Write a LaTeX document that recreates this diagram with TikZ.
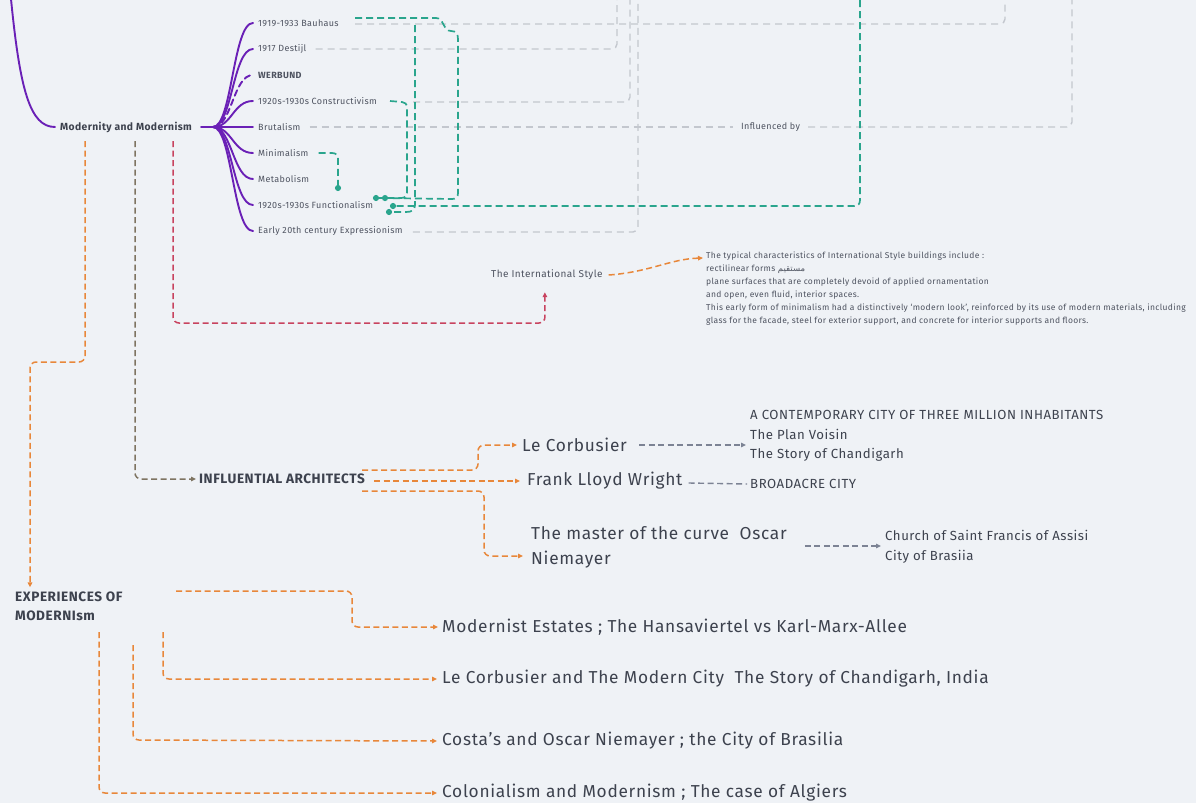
\documentclass[tikz,border=0pt]{standalone}
\usepackage{fontspec}
\setmainfont[LetterSpace=4]{Fira Sans}
\newfontfamily\arabicfont[Script=Arabic]{DejaVu Sans}
\TeXXeTstate=1
\usetikzlibrary{arrows.meta,calc}
\definecolor{bg}{HTML}{EFF2F6}
\definecolor{txt}{HTML}{3D424E}
\definecolor{txtl}{HTML}{4E5360}
\definecolor{purp}{HTML}{6A20B6}
\definecolor{teal}{HTML}{2AA58D}
\definecolor{lgray}{HTML}{C3C7CE}
\definecolor{orng}{HTML}{E8873A}
\definecolor{crim}{HTML}{C8435F}
\definecolor{brwn}{HTML}{7E7461}
\definecolor{dgray}{HTML}{7C8394}
\tikzset{
  lbl/.style={font=\fontsize{9}{11}\selectfont, text=txtl, inner sep=0pt, anchor=west},
  big/.style={font=\fontsize{17.3}{25}\selectfont, text=txt, inner sep=0pt, anchor=west, align=left},
  mid/.style={font=\fontsize{13.2}{19.5}\selectfont, text=txt, inner sep=0pt, anchor=west, align=left},
  small/.style={font=\fontsize{8.5}{13}\selectfont, text=txtl, inner sep=0pt, align=left},
  head/.style={font=\bfseries\fontsize{13.6}{19}\selectfont, text=txt, inner sep=0pt, anchor=west, align=left},
  pline/.style={draw=purp, line width=1.9pt, line cap=round},
  gline/.style={draw=lgray, line width=1.4pt, dash pattern=on 7pt off 5pt, rounded corners=5pt},
  tline/.style={draw=teal, line width=1.7pt, dash pattern=on 7pt off 4pt, -{Circle[length=6pt]}},
  oline/.style={draw=orng, line width=1.5pt, dash pattern=on 6pt off 3.5pt, rounded corners=6pt, -{Triangle[length=5pt,width=4.5pt]}},
  rline/.style={draw=crim, line width=1.5pt, dash pattern=on 6pt off 3.5pt, rounded corners=6pt, -{Triangle[length=5pt,width=4.5pt]}},
  bline/.style={draw=brwn, line width=1.5pt, dash pattern=on 6pt off 3.5pt, rounded corners=6pt, -{Triangle[length=5pt,width=4.5pt]}},
  kline/.style={draw=dgray, line width=1.4pt, dash pattern=on 6pt off 3.5pt},
}
\begin{document}
\begin{tikzpicture}[x=1pt,y=-1pt]
\useasboundingbox[fill=bg] (0,0) rectangle (1196,803);

% ---------- nodes ----------
\node[font=\bfseries\fontsize{10.3}{12}\selectfont, text=txt, inner sep=0pt, anchor=west] (mm) at (60,127) {Modernity and Modernism};
\node[lbl] (bau) at (258,23) {1919-1933 Bauhaus};
\node[lbl] (dst) at (258,49) {1917 Destijl};
\node[lbl, font=\bfseries\fontsize{9}{11}\selectfont] (wer) at (258,75) {WERBUND};
\node[lbl] (con) at (258,101) {1920s-1930s Constructivism};
\node[lbl] (bru) at (258,127) {Brutalism};
\node[lbl] (min) at (258,153) {Minimalism};
\node[lbl] (met) at (258,179) {Metabolism};
\node[lbl] (fun) at (258,205) {1920s-1930s Functionalism};
\node[lbl] (exp) at (258,231) {Early 20th century Expressionism};
\node[lbl] (inf) at (741,127) {Influenced by};

\node[font=\fontsize{10}{12}\selectfont, text=txtl, inner sep=0pt, anchor=west] (intl) at (491,275) {The International Style};
\node[small, anchor=north west] (desc) at (706,252) {The typical characteristics of International Style buildings include :\\
rectilinear forms {\arabicfont\beginR مستقيم\endR}\\
plane surfaces that are completely devoid of applied ornamentation\\
and open, even fluid, interior spaces.\\
This early form of minimalism had a distinctively ‘modern look’, reinforced by its use of modern materials, including\\
glass for the facade, steel for exterior support, and concrete for interior supports and floors.};

\node[head] (ia) at (199,479) {INFLUENTIAL ARCHITECTS};
\node[big] (lc) at (522,445) {Le Corbusier};
\node[big] (flw) at (527,481) {Frank Lloyd Wright};
\node[big] (osc) at (531,547) {The master of the curve\ \ Oscar\\Niemayer};
\node[mid] (lcl) at (750,436) {A CONTEMPORARY CITY OF THREE MILLION INHABITANTS\\The Plan Voisin\\The Story of Chandigarh};
\node[mid] (bro) at (750,484) {BROADACRE CITY};
\node[mid] (nl) at (885,547) {Church of Saint Francis of Assisi\\City of Brasiia};

\node[head] (exm) at (15,606) {EXPERIENCES OF\\MODERNIsm};
\node[big] (e1) at (442,627) {Modernist Estates ; The Hansaviertel vs Karl-Marx-Allee};
\node[big] (e2) at (442,679) {Le Corbusier and The Modern City\ \ The Story of Chandigarh, India};
\node[big] (e3) at (442,741) {Costa’s and Oscar Niemayer ; the City of Brasilia};
\node[big] (e4) at (442,793) {Colonialism and Modernism ; The case of Algiers};

% ---------- purple tree ----------
\coordinate (top) at (11,-1);
\coordinate (hub) at (213,127);
\draw[pline] (top) .. controls (20,90) and (30,127) .. ([xshift=-5pt]mm.west);
\draw[pline] ([xshift=9pt]mm.east) -- (hub);
\foreach \n in {bau,dst,con,bru,min,met,fun,exp}{
  \draw[pline] (hub) .. controls +(19,0) and +(-20,0) .. ([xshift=-5pt]\n.west);
}
\draw[pline, dash pattern=on 6pt off 4pt] (hub) .. controls +(19,0) and +(-20,0) .. ([xshift=-5pt]wer.west);

% ---------- gray relationships ----------
\coordinate (g1) at (1005,0);
\coordinate (g2) at (617,0);
\coordinate (g3) at (630,0);
\coordinate (g4) at (1072,0);
\coordinate (g5) at (638,0);
\draw[gline] (355,24) -- (g1 |- 0,24) -- (g1);
\draw[gline] ([xshift=9pt]dst.east) -- (g2 |- dst.east) -- (g2);
\draw[gline] (413,102) -- (g3 |- 0,102) -- (g3);
\draw[gline] ([xshift=9pt]bru.east) -- ([xshift=-8pt]inf.west);
\draw[gline] ([xshift=8pt]inf.east) -- (g4 |- bru.east) -- (g4);
\draw[gline] ($(exp.east)+(10,1)$) -- (g5 |- 0,232) -- (g5);

% ---------- teal relationships ----------
\coordinate (tr) at (860,0);
\coordinate (t2s) at (415,25);
\coordinate (mdot) at (338,191);
\coordinate (d1) at (373,198);
\coordinate (d2) at (382,198);
\coordinate (d3) at (390,206);
\coordinate (d4) at (386,212);
\draw[tline] (355,18) -- (436,18) .. controls (444,18) and (443,31) .. (451,31) .. controls (456,31) and (458,34) .. (458,39) -- (458,193) .. controls (458,197) and (456,199) .. (452,199) -- (d2);
\draw[tline] (t2s) -- (415,205) .. controls (415,210) and (412,212) .. (406,212) -- (d4);
\draw[tline] (tr) -- (860,200) .. controls (860,204) and (858,206) .. (854,206) -- (d3);
\draw[tline] ([xshift=10pt]min.east) -- (332,153) .. controls (336,153) and (338,155) .. (338,159) -- (mdot);
\draw[tline] (390,101) -- (402,102) .. controls (405,102) and (407,104) .. (407,108) -- (407,193) .. controls (407,196) and (405,198) .. (401,198) -- (d1);

% ---------- branches from Modernity and Modernism ----------
\draw[rline] (173,141) -- (173,323) -- (545,323) -- ($(intl.south)+(-2,12)$);
\draw[oline] (85,141) -- (85,362) -- (30,362) -- ($(exm.north west)+(15,-4)$);
\draw[bline] (135,141) -- (135,479) -- ([xshift=-3pt]ia.west);
\draw[oline, rounded corners=0pt] ([xshift=6pt]intl.east) .. controls (650,272) and (670,259) .. ($(desc.north west)+(-3,6)$);

% ---------- architects ----------
\draw[oline] (362,470) -- (478,470) -- (478,445) -- ([xshift=-5pt]lc.west);
\draw[oline] ($(ia.east)+(9,2)$) -- ($(flw.west)+(-7,0)$);
\draw[oline] (362,491) -- (484,491) -- (484,556) -- ($(osc.west)+(-8,9)$);
\draw[kline, -{Triangle[length=5pt,width=4.5pt]}] ([xshift=12pt]lc.east) -- ($(lcl.west |- lc.east)+(-4,0)$);
\draw[kline] ($(flw.east)+(6,2)$) -- ($(bro.west)+(-3,0)$);
\draw[kline, -{Triangle[length=5pt,width=4.5pt]}] ($(osc.east)+(18,-1)$) -- ($(nl.west)+(-4,-1)$);

% ---------- experiences ----------
\coordinate (x1) at (176,591);
\coordinate (x2) at (163,632);
\coordinate (x3) at (133,645);
\coordinate (x4) at (99,632);
\draw[oline] (x1) -- (352,591) -- (352,627) -- ([xshift=-4pt]e1.west);
\draw[oline] (x2) -- (163,679) -- ([xshift=-5pt]e2.west);
\draw[oline] (x3) -- (133,740) -- ([xshift=-5pt]e3.west);
\draw[oline] (x4) -- (99,793) -- ([xshift=-5pt]e4.west);
\end{tikzpicture}
\end{document}
